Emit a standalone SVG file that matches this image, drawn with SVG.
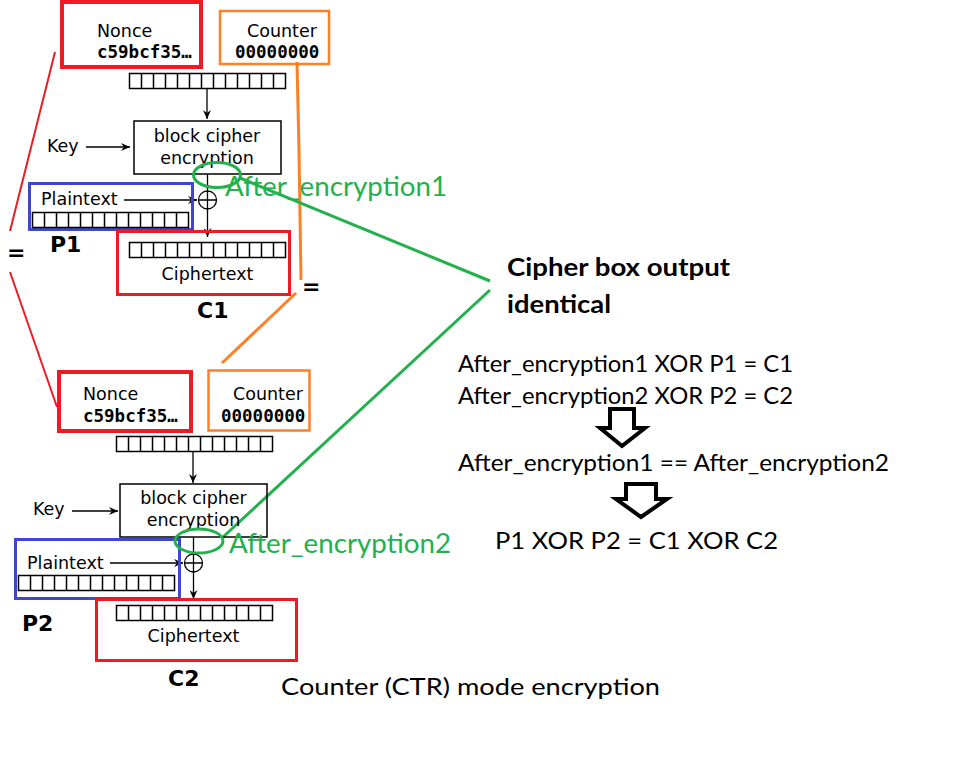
<svg xmlns="http://www.w3.org/2000/svg" width="954" height="781" viewBox="0 0 954 781">
<style>
.lbl{font-family:"DejaVu Sans",sans-serif;font-size:17.5px;fill:#000}
.mono{font-family:"DejaVu Sans Mono",monospace;font-size:17.5px;font-weight:bold;fill:#000}
.big{font-family:"DejaVu Sans",sans-serif;font-size:22px;font-weight:bold;fill:#000}
.txt{font-family:Lato,"Open Sans",sans-serif;font-size:24px;fill:#000}
.grn{font-family:Lato,"Open Sans",sans-serif;font-size:26px;fill:#22b14c}
.bold{font-family:Lato,"Open Sans",sans-serif;font-size:25px;font-weight:bold;fill:#000}
.box{fill:none;stroke:#000;stroke-width:1.5}
.red{fill:none;stroke:#ed1c24}
.org{fill:none;stroke:#ff7f27}
.blu{fill:none;stroke:#3f48cc;stroke-width:3}
.gl{fill:none;stroke:#22b14c;stroke-width:3}
.ar{stroke:#000;stroke-width:1.3;fill:none;marker-end:url(#ah)}
.hollow{fill:#fff;stroke:#000;stroke-width:4;stroke-linejoin:miter}
</style>
<defs>
<marker id="ah" markerWidth="10" markerHeight="8" refX="9" refY="4" orient="auto" markerUnits="userSpaceOnUse">
<path d="M0,0 L9,4 L0,8 L3,4 Z" fill="#000"/>
</marker>
<g id="bits">
<rect x="0" y="0" width="156" height="15" fill="#fff" stroke="#000" stroke-width="1.5"/>
<path d="M12,0V15M24,0V15M36,0V15M48,0V15M60,0V15M72,0V15M84,0V15M96,0V15M108,0V15M120,0V15M132,0V15M144,0V15" stroke="#000" stroke-width="1.5"/>
</g>
<g id="xor">
<circle cx="0" cy="0" r="9" fill="#fff" stroke="#000" stroke-width="1.3"/>
<path d="M-9,0H9M0,-9V9" stroke="#000" stroke-width="1.3"/>
</g>
</defs>

<!-- connectors / annotation lines -->
<g id="connectors">
<line class="red" stroke-width="2" x1="55" y1="52" x2="10" y2="231"/>
<line class="red" stroke-width="2" x1="10" y1="272" x2="57" y2="407"/>
<polyline class="org" stroke-width="3" points="297,62 299,150 301,280"/>
<line class="org" stroke-width="3" x1="296" y1="293" x2="222" y2="363"/>
<line class="gl" x1="240" y1="178" x2="490" y2="281"/>
<line class="gl" x1="490" y1="290" x2="223" y2="537"/>
<line class="ar" x1="207" y1="88" x2="207" y2="119"/>
<line class="ar" x1="86" y1="147" x2="130" y2="147"/>
<line class="ar" x1="124" y1="200" x2="197" y2="200"/>
<line stroke="#000" stroke-width="1.3" x1="207.5" y1="174" x2="207.5" y2="191"/>
<line class="ar" x1="207.5" y1="209" x2="207.5" y2="237"/>
<line class="ar" x1="193" y1="451" x2="193" y2="483"/>
<line class="ar" x1="72" y1="511" x2="118" y2="511"/>
<line class="ar" x1="110" y1="563" x2="183" y2="563"/>
<line stroke="#000" stroke-width="1.3" x1="193.5" y1="537" x2="193.5" y2="554"/>
<line class="ar" x1="193.5" y1="572" x2="193.5" y2="599"/>
</g>

<!-- top chain -->
<g id="nonce1">
<rect class="red" stroke-width="4" x="62" y="2" width="139" height="65"/>
<text class="lbl" x="97" y="37">Nonce</text>
<text class="mono" x="97" y="58">c59bcf35…</text>
</g>
<g id="counter1">
<rect class="org" stroke-width="2.5" x="220" y="11" width="109" height="53"/>
<text class="lbl" x="247" y="37">Counter</text>
<text class="mono" x="235" y="58">00000000</text>
</g>
<use href="#bits" x="129.5" y="73.5"/>
<g id="cipher1">
<rect class="box" x="134" y="121" width="147" height="53"/>
<text class="lbl" x="207" y="142" text-anchor="middle">block cipher</text>
<text class="lbl" x="207" y="164" text-anchor="middle">encryption</text>
</g>
<g id="key1"><text class="lbl" x="47" y="152">Key</text></g>
<g id="plain1">
<rect class="blu" x="29.5" y="183.5" width="163" height="46"/>
<text class="lbl" x="41" y="205">Plaintext</text>
<use href="#bits" x="32.5" y="212.5"/>
</g>
<g id="xor1"><use href="#xor" x="207.5" y="200"/></g>
<g id="cipher_text1">
<rect class="red" stroke-width="3" x="117.5" y="231.5" width="172" height="63"/>
<use href="#bits" x="129.5" y="242.5"/>
<text class="lbl" x="207.5" y="280" text-anchor="middle">Ciphertext</text>
</g>
<g id="ell1"><ellipse class="gl" cx="217" cy="175" rx="23.5" ry="12.5"/></g>
<text class="big" x="50" y="252">P1</text>
<text class="big" x="197" y="318">C1</text>
<text class="big" x="7" y="260">=</text>
<text class="big" x="302" y="294">=</text>
<text class="grn" x="225" y="196" textLength="222" lengthAdjust="spacingAndGlyphs">After_encryption1</text>

<!-- bottom chain -->
<g id="nonce2">
<rect class="red" stroke-width="4" x="59" y="372" width="132" height="59"/>
<text class="lbl" x="83" y="400">Nonce</text>
<text class="mono" x="83" y="422">c59bcf35…</text>
</g>
<g id="counter2">
<rect class="org" stroke-width="2.5" x="208.5" y="370.5" width="101" height="60"/>
<text class="lbl" x="233" y="400">Counter</text>
<text class="mono" x="221" y="422">00000000</text>
</g>
<use href="#bits" x="116.5" y="436.5"/>
<g id="cipher2">
<rect class="box" x="120" y="484" width="147" height="53"/>
<text class="lbl" x="193.5" y="504" text-anchor="middle">block cipher</text>
<text class="lbl" x="193.5" y="526" text-anchor="middle">encryption</text>
</g>
<g id="key2"><text class="lbl" x="33" y="515">Key</text></g>
<g id="plain2">
<rect class="blu" x="15.5" y="539.5" width="164" height="59"/>
<text class="lbl" x="27" y="569">Plaintext</text>
<use href="#bits" x="18.5" y="575.5"/>
</g>
<g id="xor2"><use href="#xor" x="193.5" y="563"/></g>
<g id="cipher_text2">
<rect class="red" stroke-width="3" x="96.5" y="599.5" width="200" height="61"/>
<use href="#bits" x="116.5" y="605.5"/>
<text class="lbl" x="193.5" y="642" text-anchor="middle">Ciphertext</text>
</g>
<g id="ell2"><ellipse class="gl" cx="199" cy="541" rx="24" ry="12"/></g>
<text class="big" x="22" y="631">P2</text>
<text class="big" x="168" y="686">C2</text>
<text class="grn" x="229" y="553" textLength="222" lengthAdjust="spacingAndGlyphs">After_encryption2</text>

<!-- right side -->
<g id="conclusion">
<text class="bold" x="507" y="276" textLength="223" lengthAdjust="spacingAndGlyphs">Cipher box output</text>
<text class="bold" x="507" y="313" textLength="104" lengthAdjust="spacingAndGlyphs">identical</text>
<text class="txt" x="458" y="372" textLength="335" lengthAdjust="spacingAndGlyphs">After_encryption1 XOR P1 = C1</text>
<text class="txt" x="458" y="404" textLength="335" lengthAdjust="spacingAndGlyphs">After_encryption2 XOR P2 = C2</text>
<polygon class="hollow" points="610,409 634,409 634,428 645,428 622,446 600,428 610,428"/>
<text class="txt" x="458" y="471" textLength="431" lengthAdjust="spacingAndGlyphs">After_encryption1 == After_encryption2</text>
<polygon class="hollow" points="626,484 656,484 656,499 667,499 641,517 616,499 626,499"/>
<text class="txt" x="495" y="549" font-size="25" textLength="283" lengthAdjust="spacingAndGlyphs">P1 XOR P2 = C1 XOR C2</text>
</g>
<text class="txt" x="281" y="695" font-size="23" textLength="379" lengthAdjust="spacingAndGlyphs">Counter (CTR) mode encryption</text>
</svg>
